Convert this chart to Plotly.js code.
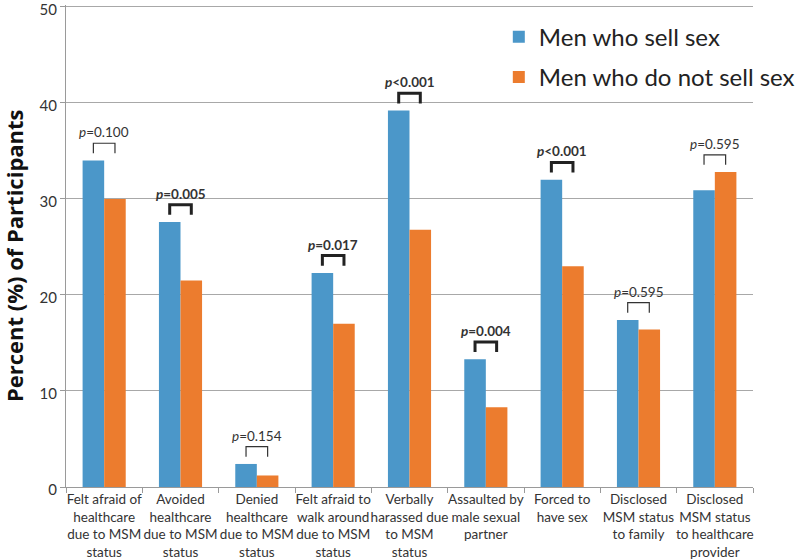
<!DOCTYPE html>
<html><head><meta charset="utf-8">
<script src="https://cdn.plot.ly/plotly-3.0.1.min.js"></script>
<style>body{margin:0;background:#fff}#chart{width:800px;height:560px}</style>
</head><body><div id="chart"></div>
<script>
var categories = [
  "Felt afraid of<br>healthcare<br>due to MSM<br>status",
  "Avoided<br>healthcare<br>due to MSM<br>status",
  "Denied<br>healthcare<br>due to MSM<br>status",
  "Felt afraid to<br>walk around<br>due to MSM<br>status",
  "Verbally<br>harassed due<br>to MSM<br>status",
  "Assaulted by<br>male sexual<br>partner",
  "Forced to<br>have sex",
  "Disclosed<br>MSM status<br>to family",
  "Disclosed<br>MSM status<br>to healthcare<br>provider"
];
var sellSex = [34.0, 27.6, 2.4, 22.3, 39.2, 13.3, 32.0, 17.4, 30.9];
var noSellSex = [30.0, 21.5, 1.2, 17.0, 26.8, 8.3, 23.0, 16.4, 32.8];
var pValues = ["0.100", "0.005", "0.154", "0.017", "<0.001", "0.004", "<0.001", "0.595", "0.595"];
var pComparator = ["=", "=", "=", "=", "", "=", "", "=", "="];
var significant = [false, true, false, true, true, true, true, false, false];
var yTicks = [0, 10, 20, 30, 40, 50];
var yTitle = "Percent (%) of Participants";

var font = "Lato, Open Sans, sans-serif";
var traces = [
  {type: "bar", name: "Men who sell sex", x: categories, y: sellSex,
   legendgroup: "a", marker: {color: "#4b97c9"}},
  {type: "bar", name: "Men who do not sell sex", x: categories, y: noSellSex,
   legendgroup: "b", marker: {color: "#ec7c2e"}}
];

var shapes = [], annotations = [];
var half = 0.1415;
for (var i = 0; i < categories.length; i++) {
  var m = Math.max(sellSex[i], noSellSex[i]);
  var yb = m + 0.75, yt = m + 1.8;
  var sig = significant[i];
  shapes.push({type: "path", xref: "x", yref: "y",
    path: "M " + (i - half) + " " + yb + " L " + (i - half) + " " + yt +
          " L " + (i + half) + " " + yt + " L " + (i + half) + " " + yb,
    line: {color: sig ? "#222" : "#333", width: sig ? 3 : 1.2}});
  var label = "<i>p</i>" + (pComparator[i] === "=" ? "=" : "") + pValues[i];
  if (sig) label = "<b>" + label + "</b>";
  annotations.push({x: i, y: yt, xref: "x", yref: "y", text: label,
    showarrow: false, yanchor: "bottom", yshift: 1,
    font: {family: font, size: 13.5, color: "#333"}});
}
annotations.push({xref: "paper", yref: "paper", x: 0, xshift: -52, y: 0.479,
  xanchor: "center", yanchor: "middle", textangle: -90, showarrow: false,
  text: "<b>" + yTitle + "</b>",
  font: {family: "Open Sans, sans-serif", size: 22, color: "#111"}});

var layout = {
  width: 800, height: 560,
  margin: {l: 66, r: 0, t: 5, b: 73},
  paper_bgcolor: "#fff", plot_bgcolor: "#fff",
  barmode: "group", bargap: 0.435, bargroupgap: 0,
  font: {family: font, color: "#333"},
  xaxis: {type: "category", showline: true, linecolor: "#9a9a9a", linewidth: 1,
    ticks: "outside", tickson: "boundaries", ticklen: 5, tickcolor: "#9a9a9a",
    tickfont: {family: font, size: 13.5, color: "#333"}, tickangle: 0,
    showgrid: false},
  yaxis: {range: [0, 50.2], tickvals: yTicks, showline: true, linecolor: "#9a9a9a",
    linewidth: 1, ticks: "outside", ticklen: 5, tickcolor: "#9a9a9a",
    gridcolor: "#a8a8a8", gridwidth: 1, zeroline: false, ticklabeloverflow: "allow",
    ticklabelshift: 3,
    tickfont: {family: font, size: 15, color: "#333"}},
  legend: {x: 0.63, y: 0.98, xanchor: "left", yanchor: "top",
    font: {family: font, size: 24, color: "#222"}, bgcolor: "rgba(0,0,0,0)",
    tracegroupgap: 6, itemwidth: 30},
  shapes: shapes,
  annotations: annotations
};
Plotly.newPlot("chart", traces, layout, {staticPlot: true, displayModeBar: false});
</script></body></html>
